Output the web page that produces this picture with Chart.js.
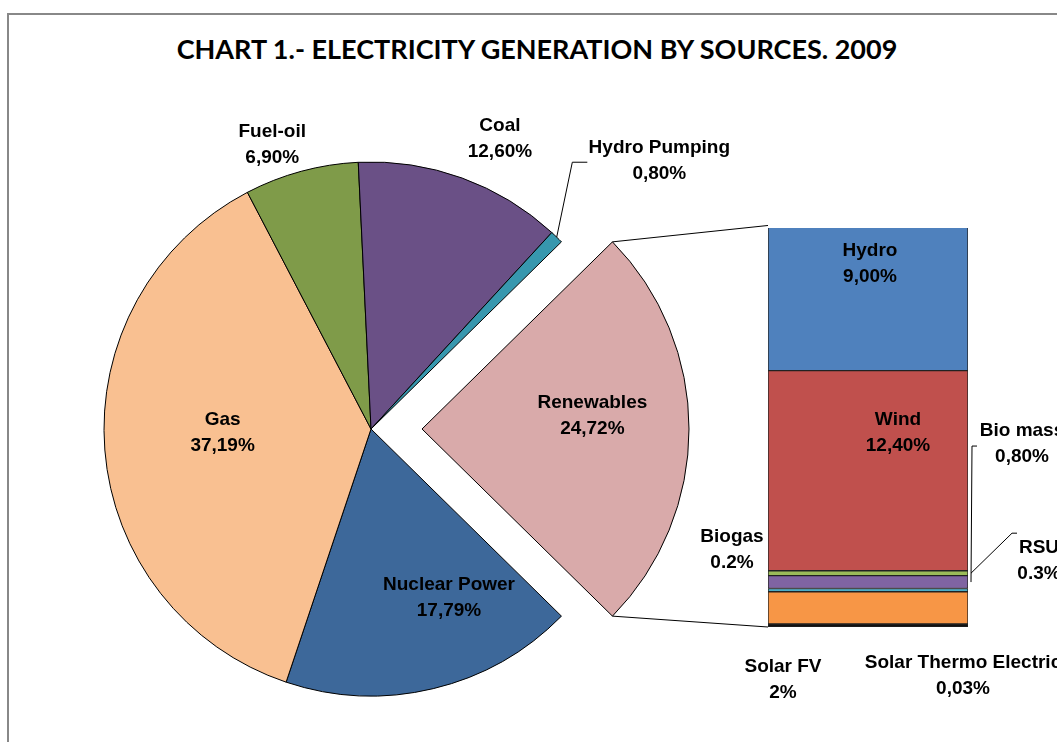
<!DOCTYPE html>
<html>
<head>
<meta charset="utf-8">
<title>Electricity generation by sources 2009</title>
<script src="https://cdn.jsdelivr.net/npm/chart.js@4.4.1/dist/chart.umd.min.js"></script>
<style>
  html, body { margin: 0; padding: 0; background: #fff; }
  #page { position: relative; width: 1057px; height: 742px; overflow: hidden; }
  #frame { position: absolute; left: 7px; top: 13px; width: 1200px; height: 900px;
           border-left: 2px solid #888; border-top: 2px solid #888; }
  #title { position: absolute; left: 0; top: 33px; width: 1074px; text-align: center;
           font: bold 27px Lato, sans-serif; line-height: 32px; color: #000; }
  canvas { position: absolute; left: 0; top: 0; }
</style>
</head>
<body>
<div id="page">
  <div id="frame"></div>
  <div id="title">CHART 1.- ELECTRICITY GENERATION BY SOURCES. 2009</div>
  <canvas id="pie" width="1057" height="858"></canvas>
  <canvas id="bar" width="1057" height="742"></canvas>
</div>
<script>
// main pie, clockwise starting with the exploded slice
const sources = ['Renewables', 'Nuclear Power', 'Gas', 'Fuel-oil', 'Coal', 'Hydro Pumping']
const shares = [24.72, 17.79, 37.19, 6.90, 12.60, 0.80]
const shareLabels = ['24,72%', '17,79%', '37,19%', '6,90%', '12,60%', '0,80%']

// renewables split, bottom of the bar first
const renewables = ['Solar Thermo Electric', 'Solar FV', 'Biogas', 'Bio mass', 'RSU', 'Wind', 'Hydro']
const renewableShares = [0.03, 2, 0.2, 0.8, 0.3, 12.4, 9.0]
const renewableLabels = ['0,03%', '2%', '0.2%', '0,80%', '0.3%', '12,40%', '9,00%']

const pieColors = ['#D9AAAA', '#3D689A', '#F9C091', '#7F9B49', '#6A5086', '#3797AE']
const barColors = ['#111111', '#F79646', '#4BACC6', '#8064A2', '#9BBB59', '#C0504D', '#4F81BD']

// label placement: [angle shift in degrees, radius factor, leader [dx, dy, elbow]]
const piePlace = [[-4.5, 0.64], [-11.3, 0.697], [3, 0.556], [-4, 1.127], [4, 1.19], [3, 1.475, [-72, 1.5, 15]]]
// label placement for bar parts: [dx, dy from segment centre, leader [dx, dy, elbow]]
const barPlace = [[95, 50], [-85, 72], [-136, -40], [154, -138, [-45, 2, 5]], [171, -12, [-22, -28, 5]], [30, -38], [2, -34]]

const labelFont = 'bold 19px "Liberation Sans", Arial, sans-serif'
const lineGap = 13

window.onload = function () {

    let pieChart

    function twoLines(ctx, a, b, x, y) {
        ctx.fillText(a, x, y - lineGap)
        ctx.fillText(b, x, y + lineGap)
    }

    function leader(ctx, sx, sy, elbow, ex, ey) {
        ctx.beginPath()
        ctx.moveTo(sx, sy)
        ctx.lineTo(sx - elbow, sy)
        ctx.lineTo(ex, ey)
        ctx.stroke()
    }

    // where the arc really is drawn (offset moves it along the middle angle)
    function arcGeometry(arc) {
        const p = arc.getProps(['x', 'y', 'startAngle', 'endAngle', 'outerRadius'], true)
        const shift = (arc.options.offset || 0) / 4
        const mid = (p.startAngle + p.endAngle) / 2
        return {
            cx: p.x + Math.cos(mid) * shift,
            cy: p.y + Math.sin(mid) * shift,
            r: p.outerRadius, mid: mid, start: p.startAngle, end: p.endAngle
        }
    }

    const pieLabelsPlugin = {
        id: 'pieLabels',
        afterDatasetsDraw(chart) {
            const ctx = chart.ctx
            ctx.save()
            ctx.font = labelFont
            ctx.fillStyle = '#000'
            ctx.strokeStyle = '#000'
            ctx.lineWidth = 1
            ctx.textAlign = 'center'
            ctx.textBaseline = 'middle'
            chart.getDatasetMeta(0).data.forEach((arc, i) => {
                const g = arcGeometry(arc)
                const place = piePlace[i]
                const a = g.mid + place[0] * Math.PI / 180
                const lx = g.cx + Math.cos(a) * g.r * place[1]
                const ly = g.cy + Math.sin(a) * g.r * place[1]
                twoLines(ctx, sources[i], shareLabels[i], lx, ly)
                if (place[2]) {
                    leader(ctx, lx + place[2][0], ly + place[2][1], place[2][2],
                        g.cx + Math.cos(g.mid) * g.r, g.cy + Math.sin(g.mid) * g.r)
                }
            })
            ctx.restore()
        }
    }

    const barLabelsPlugin = {
        id: 'barLabels',
        afterDatasetsDraw(chart) {
            const ctx = chart.ctx
            ctx.save()
            ctx.strokeStyle = '#000'
            ctx.lineWidth = 1

            // lines joining the exploded slice with the bar
            const g = arcGeometry(pieChart.getDatasetMeta(0).data[0])
            const top = chart.getDatasetMeta(renewables.length - 1).data[0]
            const bottom = chart.getDatasetMeta(0).data[0]
            const left = top.x - top.width / 2
            ctx.beginPath()
            ctx.moveTo(g.cx + Math.cos(g.start) * g.r, g.cy + Math.sin(g.start) * g.r)
            ctx.lineTo(left, top.y)
            ctx.moveTo(g.cx + Math.cos(g.end) * g.r, g.cy + Math.sin(g.end) * g.r)
            ctx.lineTo(left, bottom.base)
            ctx.stroke()

            ctx.font = labelFont
            ctx.fillStyle = '#000'
            ctx.textAlign = 'center'
            ctx.textBaseline = 'middle'
            renewables.forEach((name, i) => {
                const el = chart.getDatasetMeta(i).data[0]
                const midY = (el.y + el.base) / 2
                const place = barPlace[i]
                const lx = el.x + place[0]
                const ly = midY + place[1]
                twoLines(ctx, name, renewableLabels[i], lx, ly)
                if (place[2]) {
                    leader(ctx, lx + place[2][0], ly + place[2][1], place[2][2],
                        el.x + el.width / 2 + 3, midY)
                }
            })
            ctx.restore()
        }
    }

    const total = shares.reduce((s, v) => s + v, 0)

    pieChart = new Chart(document.getElementById('pie'), {
        type: 'pie',
        data: {
            labels: sources,
            datasets: [{
                data: shares,
                backgroundColor: pieColors,
                borderColor: '#000',
                borderWidth: 1,
                offset: [204, 0, 0, 0, 0, 0],
                hoverOffset: 0
            }]
        },
        options: {
            responsive: false,
            animation: false,
            radius: 267,
            // renewables centred on 3 o'clock
            rotation: 90 - shares[0] / total * 180,
            layout: { padding: { left: 0, right: 315, top: 0, bottom: 0 } },
            plugins: { legend: { display: false }, tooltip: { enabled: false }, title: { display: false } },
            events: []
        },
        plugins: [pieLabelsPlugin]
    })

    const barTotal = renewableShares.reduce((s, v) => s + v, 0)

    new Chart(document.getElementById('bar'), {
        type: 'bar',
        data: {
            labels: ['Renewables'],
            datasets: renewables.map((name, i) => ({
                label: name,
                data: [renewableShares[i]],
                backgroundColor: barColors[i],
                borderColor: '#222',
                borderWidth: 1,
                borderSkipped: false,
                // the tiny solar thermo part still shows as a dark line
                minBarLength: i === 0 ? 3 : 0,
                barPercentage: 1,
                categoryPercentage: 1
            }))
        },
        options: {
            responsive: false,
            animation: false,
            layout: { padding: { left: 768, right: 89, top: 228, bottom: 115 } },
            scales: {
                x: { stacked: true, display: false },
                y: { stacked: true, display: false, min: 0, max: barTotal }
            },
            plugins: { legend: { display: false }, tooltip: { enabled: false } },
            events: []
        },
        plugins: [barLabelsPlugin]
    })
}
</script>
</body>
</html>
